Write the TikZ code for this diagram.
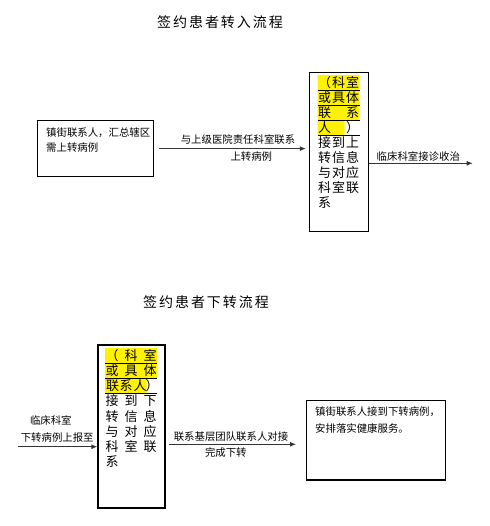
\documentclass[tikz,border=0pt]{standalone}
\usepackage{fontspec}
\setmainfont{Noto Sans CJK SC}
\newfontfamily\titlefont[LetterSpace=14]{Noto Sans CJK SC}
\usetikzlibrary{arrows.meta}
\tikzset{box/.style = {draw, line width=1.2pt, inner sep=0}}
\tikzset{arr/.style = {-{Latex[length=6pt,width=5pt]}, line width=0.9pt, black!80}}
\tikzset{lbl/.style = {inner sep=0, font=\fontsize{10.4}{12}\selectfont}}
\tikzset{ch/.style = {inner sep=0, font=\fontsize{13}{15}\selectfont}}
\tikzset{ttl/.style = {inner sep=0, font=\titlefont\fontsize{14}{16}\selectfont}}

\begin{document}
\begin{tikzpicture}[x=1pt,y=-1pt]
    \useasboundingbox (0,0) rectangle (489,526);
    % upper flow
    \node [ttl] (ttlup) at (220,21.7) {签约患者转入流程};
    \node [box, anchor=north west, minimum width=116, minimum height=56] (lbox) at (37,120) {};
    \node [lbl, anchor=west] (ltxta) at (46,132.7) {镇街联系人，汇总辖区};
    \node [lbl, anchor=west] (ltxtb) at (46,148) {需上转病例};
    \node [box, anchor=north west, minimum width=59, minimum height=159] (rbox) at (308.5,72) {};
    \fill [yellow] (317.5,75) rectangle (359.5,120) (317.5,120) rectangle (344.5,135);
    \foreach \y in {90.5,105.5,120.5,135.5}
        \draw [line width=0.8pt] (317.5,\y) -- (359.5,\y);
    \foreach \r/\a/\b/\c in {1/（/科/室, 2/或/具/体, 3/联//系, 4/人//）, 5/接/到/上, 6/转/信/息, 7/与/对/应, 8/科/室/联, 9/系//} {
        \node [ch] (u\r a) at (324.5,67.5+15*\r) {\a};
        \node [ch] (u\r b) at (338.5,67.5+15*\r) {\b};
        \node [ch] (u\r c) at (352.5,67.5+15*\r) {\c};
    }
    \draw [arr, shorten <=4.7pt, shorten >=2.7pt] (lbox.east) -- (lbox.east -| rbox.west);
    \node [lbl] (upa) at (238,140) {与上级医院责任科室联系};
    \node [lbl] (upb) at (251.3,156.7) {上转病例};
    \coordinate (out) at (472.7,163.3);
    \draw [arr] (out -| rbox.east) -- (out);
    \node [lbl] (upc) at (418.3,156.7) {临床科室接诊收治};
    % lower flow
    \node [ttl] (ttldown) at (206,301.7) {签约患者下转流程};
    \node [box, anchor=north west, minimum width=67, minimum height=163] (mbox) at (97.3,344.3) {};
    \fill [yellow] (105,348) rectangle (157,378) (105,378) rectangle (146.7,393);
    \foreach \y in {363.3,378.3,393.3}
        \draw [line width=0.8pt] (105,\y) -- (157,\y);
    \foreach \r/\a/\b/\c in {1/（/科/室, 2/或/具/体, 4/接/到/下, 5/转/信/息, 6/与/对/应, 7/科/室/联, 8/系//} {
        \node [ch] (d\r a) at (112,340.35+15.15*\r) {\a};
        \node [ch] (d\r b) at (131,340.35+15.15*\r) {\b};
        \node [ch] (d\r c) at (150,340.35+15.15*\r) {\c};
    }
    \foreach \x/\t [count=\i] in {112.5/联, 126/系, 140/人, 152/）}
        \node [ch] (d3\i) at (\x,385.65) {\t};
    \coordinate (in) at (18.3,446.7);
    \draw [arr] (in) -- (in -| mbox.west);
    \node [lbl] (dna) at (50.8,420) {临床科室};
    \node [lbl] (dnb) at (57.2,437.3) {下转病例上报至};
    \node [box, anchor=north west, minimum width=139, minimum height=79.3] (bbox) at (306,400) {};
    \draw [arr, shorten <=3.4pt, shorten >=10pt] (mbox.east |- 0,444.3) -- (bbox.west |- 0,444.3);
    \node [lbl] (dnc) at (231,436.7) {联系基层团队联系人对接};
    \node [lbl] (dnd) at (225.8,452.7) {完成下转};
    \node [lbl, anchor=west] (btxta) at (315,411.7) {镇街联系人接到下转病例，};
    \node [lbl, anchor=west] (btxtb) at (315,428.3) {安排落实健康服务。};
\end{tikzpicture}
\end{document}
